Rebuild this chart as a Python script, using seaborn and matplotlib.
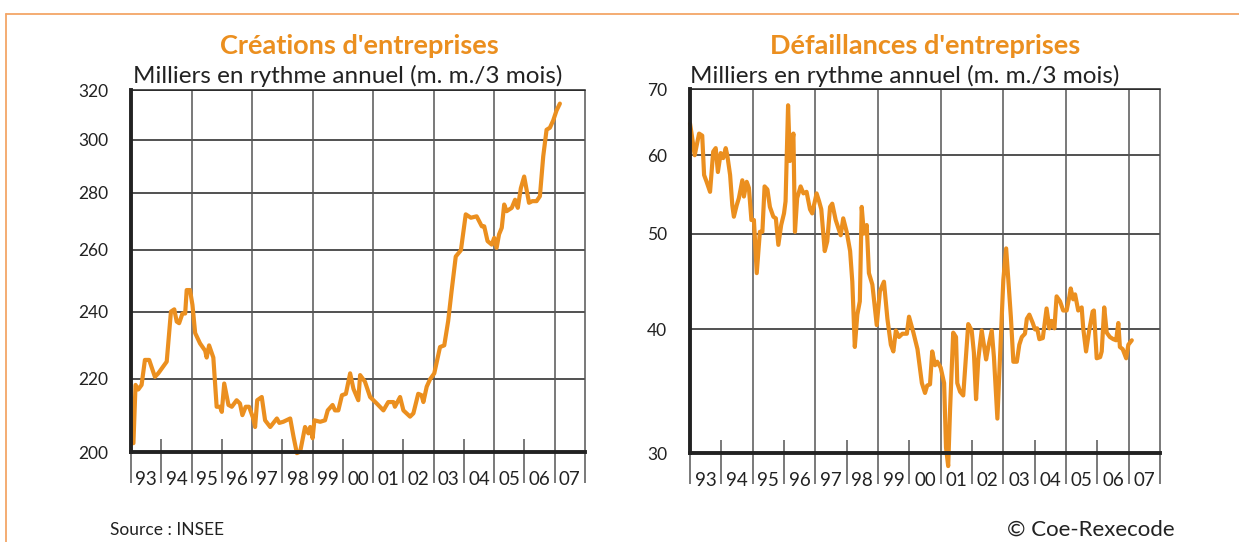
import numpy as np
import pandas as pd
import matplotlib.pyplot as plt
from matplotlib.lines import Line2D
from matplotlib.ticker import FixedLocator, NullLocator
import seaborn as sns

# Créations d'entreprises (milliers, rythme annuel, m.m. 3 mois)
cre_dates = [1993.08, 1993.15, 1993.24, 1993.35, 1993.46, 1993.6, 1993.79, 1993.9,
             1994.18, 1994.32, 1994.43, 1994.51, 1994.59, 1994.7, 1994.79, 1994.84, 1994.95,
             1995.03, 1995.12, 1995.28, 1995.45, 1995.5, 1995.58, 1995.72, 1995.83, 1995.94,
             1996.0, 1996.08, 1996.22, 1996.33, 1996.49, 1996.6, 1996.68, 1996.79, 1996.9,
             1997.04, 1997.1, 1997.17, 1997.32, 1997.43, 1997.6, 1997.82, 1997.9,
             1998.03, 1998.26, 1998.37, 1998.48, 1998.59, 1998.75, 1998.86, 1998.92,
             1999.0, 1999.06, 1999.25, 1999.41, 1999.5, 1999.66, 1999.74, 1999.85, 1999.97,
             2000.1, 2000.24, 2000.35, 2000.51, 2000.57, 2000.73, 2000.9,
             2001.12, 2001.34, 2001.5, 2001.67, 2001.72, 2001.89,
             2002.0, 2002.22, 2002.33, 2002.49, 2002.6, 2002.66, 2002.77, 2002.88,
             2003.02, 2003.21, 2003.35, 2003.48, 2003.59, 2003.73, 2003.9,
             2004.06, 2004.23, 2004.42, 2004.59, 2004.67, 2004.78, 2004.92,
             2005.0, 2005.08, 2005.16, 2005.25, 2005.33, 2005.41, 2005.58, 2005.69, 2005.78, 2005.88, 2005.99,
             2006.15, 2006.26, 2006.4, 2006.51, 2006.62, 2006.73, 2006.84, 2006.95,
             2007.06, 2007.17]
cre_values = [202.3, 218.2, 216.9, 218.2, 225.4, 225.4, 220.5, 221.5,
              224.9, 240.0, 240.7, 236.9, 236.4, 239.4, 239.4, 246.8, 246.8,
              242.1, 233.4, 230.3, 228.1, 226.1, 229.7, 226.1, 212.1, 212.1,
              210.7, 218.6, 212.6, 212.1, 213.9, 213.0, 209.8, 212.1, 212.1,
              208.9, 206.6, 213.9, 214.8, 208.4, 206.6, 208.9, 207.7,
              208.0, 208.9, 204.0, 199.7, 200.1, 206.6, 204.9, 206.6,
              203.6, 208.4, 208.0, 208.4, 211.1, 212.6, 211.1, 211.1, 215.3,
              215.7, 221.5, 217.1, 213.9, 221.0, 219.1, 214.8,
              213.0, 211.1, 213.4, 213.4, 212.1, 214.8,
              211.1, 209.4, 210.3, 215.7, 215.3, 213.4, 217.7, 219.8,
              221.5, 229.2, 229.7, 237.1, 246.3, 257.8, 259.9,
              272.3, 271.1, 271.6, 268.1, 268.1, 263.0, 261.8,
              264.1, 260.7, 265.3, 267.6, 275.8, 273.4, 274.6, 277.5, 274.6, 281.7, 286.0,
              276.4, 277.0, 277.0, 278.8, 293.6, 303.9, 304.7, 307.6,
              311.6, 314.4]

# Défaillances d'entreprises
def_dates = [1993.0, 1993.04, 1993.15, 1993.29, 1993.39, 1993.45, 1993.53, 1993.64, 1993.74, 1993.82,
             1993.89, 1993.98, 1994.06, 1994.14, 1994.19, 1994.28, 1994.35, 1994.4, 1994.49, 1994.56,
             1994.67, 1994.72, 1994.81, 1994.88, 1994.96, 1995.04, 1995.13, 1995.23, 1995.31, 1995.38,
             1995.47, 1995.55, 1995.66, 1995.74, 1995.82, 1995.91, 1996.0, 1996.05, 1996.13, 1996.19,
             1996.3, 1996.35, 1996.42, 1996.53, 1996.62, 1996.72, 1996.83, 1996.9, 1997.04, 1997.12,
             1997.19, 1997.3, 1997.38, 1997.47, 1997.54, 1997.65, 1997.81, 1997.89, 1998.0, 1998.11,
             1998.18, 1998.26, 1998.34, 1998.42, 1998.48, 1998.55, 1998.64, 1998.71, 1998.82, 1998.96,
             1999.06, 1999.19, 1999.3, 1999.41, 1999.49, 1999.57, 1999.67, 1999.78, 1999.92, 1999.99,
             2000.13, 2000.26, 2000.4, 2000.5, 2000.57, 2000.66, 2000.73, 2000.82, 2000.89, 2001.0,
             2001.11, 2001.17, 2001.24, 2001.3, 2001.4, 2001.49, 2001.53, 2001.62, 2001.72, 2001.88,
             2001.99, 2002.06, 2002.13, 2002.2, 2002.31, 2002.45, 2002.52, 2002.63, 2002.7, 2002.81,
             2002.92, 2003.0, 2003.09, 2003.16, 2003.24, 2003.32, 2003.43, 2003.51, 2003.59, 2003.69,
             2003.75, 2003.83, 2003.94, 2004.01, 2004.08, 2004.15, 2004.26, 2004.38, 2004.47, 2004.54,
             2004.63, 2004.7, 2004.81, 2004.91, 2005.02, 2005.11, 2005.15, 2005.23, 2005.29, 2005.39,
             2005.5, 2005.55, 2005.64, 2005.74, 2005.85, 2005.89, 2005.98, 2006.09, 2006.14, 2006.22,
             2006.3, 2006.4, 2006.51, 2006.6, 2006.67, 2006.72, 2006.81, 2006.92, 2006.99, 2007.1]
def_values = [64.6, 63.4, 60.0, 63.1, 62.8, 57.3, 56.4, 55.1, 60.5, 61.0,
              57.7, 60.3, 59.6, 61.0, 60.0, 57.3, 53.4, 52.0, 53.4, 54.3,
              56.6, 54.5, 56.4, 55.6, 51.6, 51.6, 45.6, 50.2, 50.2, 55.8,
              55.4, 53.2, 52.0, 51.8, 48.7, 51.0, 52.4, 53.9, 67.4, 59.2,
              63.1, 50.2, 54.3, 55.8, 54.9, 55.1, 52.9, 52.4, 54.9, 53.9,
              52.9, 48.0, 49.1, 53.2, 53.6, 51.6, 49.8, 51.8, 50.2, 48.0,
              44.7, 38.4, 41.4, 42.7, 53.2, 50.0, 51.0, 45.6, 44.4, 40.4,
              43.7, 44.7, 41.0, 38.6, 38.0, 39.9, 39.3, 39.6, 39.6, 41.2,
              39.7, 38.2, 35.3, 34.5, 35.1, 35.2, 38.0, 36.8, 37.1, 36.6,
              35.3, 30.4, 29.1, 33.2, 39.7, 39.3, 35.3, 34.6, 34.3, 40.5,
              39.9, 37.9, 34.0, 37.3, 39.9, 37.3, 38.4, 39.9, 37.5, 32.5,
              39.3, 44.9, 48.3, 44.9, 41.2, 37.1, 37.1, 38.6, 39.3, 39.6,
              41.0, 41.4, 40.6, 40.0, 40.1, 39.1, 39.2, 42.0, 40.1, 40.8,
              40.1, 43.2, 42.7, 41.8, 41.8, 43.2, 44.0, 42.9, 43.4, 41.8,
              42.1, 40.1, 38.0, 39.9, 41.7, 41.8, 37.4, 37.5, 38.0, 42.1,
              39.7, 39.3, 39.1, 39.0, 40.6, 38.4, 38.2, 37.4, 38.6, 39.0]

years = list(range(1993, 2009))
year_labels = ['93', '94', '95', '96', '97', '98', '99', '00', '01', '02', '03', '04', '05', '06', '07']
cre_ticks = [200, 220, 240, 260, 280, 300, 320]
def_ticks = [30, 40, 50, 60, 70]

ORANGE = '#EB8F1F'
sns.set_style('white')
plt.rcParams['font.family'] = ['Lato', 'DejaVu Sans']

fig = plt.figure(figsize=(12.39, 5.42), dpi=100)
ax1 = fig.add_axes([131 / 1239, 1 - 452 / 542, 454 / 1239, 362 / 542])
ax2 = fig.add_axes([690 / 1239, 1 - 453 / 542, 470 / 1239, 364 / 542])

panels = [
    (ax1, cre_dates, cre_values, cre_ticks, "Créations d'entreprises", 359, 362),
    (ax2, def_dates, def_values, def_ticks, "Défaillances d'entreprises", 925, 364),
]

for ax, dates, values, ticks, title, tx, h in panels:
    df = pd.DataFrame({'date': dates, 'value': values})
    sns.lineplot(data=df, x='date', y='value', ax=ax, color=ORANGE, linewidth=3.0,
                 clip_on=False, zorder=5)
    ax.set_yscale('log')
    ax.set_ylim(ticks[0], ticks[-1])
    ax.set_xlim(1993, 2008)
    ax.yaxis.set_major_locator(FixedLocator(ticks))
    ax.yaxis.set_minor_locator(NullLocator())
    ax.set_yticklabels([str(t) for t in ticks])
    ax.tick_params(axis='y', which='major', direction='out', length=6.5, width=1,
                   color='#222222', labelsize=12.5, labelcolor='#222222', pad=10)
    ax.grid(axis='y', color='#222222', linewidth=1.1)
    ax.grid(axis='x', visible=False)

    # year labels centred in each year, separators at boundaries
    ax.xaxis.set_major_locator(FixedLocator([y + 0.5 for y in years[:-1]]))
    ax.set_xticklabels(year_labels)
    ax.xaxis.set_minor_locator(NullLocator())
    ax.tick_params(axis='x', which='major', length=0, labelsize=13.5,
                   labelcolor='#222222', pad=14)
    below = -31 / h
    for y in years[1:-1]:
        top = 1 if y % 2 == 1 else 13 / h
        ax.vlines(y, below, top, transform=ax.get_xaxis_transform(), color='#555555',
                  linewidth=1.1, clip_on=False, zorder=1)
    ax.vlines(1993, below, 0, transform=ax.get_xaxis_transform(), color='#555555',
              linewidth=1.1, clip_on=False)
    ax.vlines(2008, below, 1, transform=ax.get_xaxis_transform(), color='#555555',
              linewidth=1.1, clip_on=False)

    for side in ['left', 'bottom']:
        ax.spines[side].set_linewidth(2.8)
        ax.spines[side].set_color('#222222')
        ax.spines[side].set_zorder(6)
    ax.spines['top'].set_linewidth(1.1)
    ax.spines['top'].set_color('#222222')
    ax.spines['right'].set_visible(False)
    ax.set_xlabel('')
    ax.set_ylabel('')

    fig.text(tx / 1239, 1 - 46 / 542, title, ha='center', va='center', color=ORANGE,
             fontsize=19.5, fontweight='bold')

fig.text(133 / 1239, 1 - 76 / 542, 'Milliers en rythme annuel (m. m./3 mois)',
         ha='left', va='center', fontsize=17.5, color='#222222')
fig.text(690 / 1239, 1 - 76 / 542, 'Milliers en rythme annuel (m. m./3 mois)',
         ha='left', va='center', fontsize=17.5, color='#222222')

fig.text(110 / 1239, 1 - 530 / 542, 'Source : INSEE', ha='left', va='center',
         fontsize=12.5, color='#222222')
fig.text(1175 / 1239, 1 - 530 / 542, '© Coe-Rexecode', ha='right', va='center',
         fontsize=16, color='#222222')

# orange frame
frame = '#F3A667'
fig.add_artist(Line2D([6 / 1239, 1], [1 - 14 / 542] * 2, transform=fig.transFigure,
                      color=frame, linewidth=1.3))
fig.add_artist(Line2D([6 / 1239] * 2, [0, 1 - 14 / 542], transform=fig.transFigure,
                      color=frame, linewidth=1.3))

fig.savefig('out.png', dpi=100)
